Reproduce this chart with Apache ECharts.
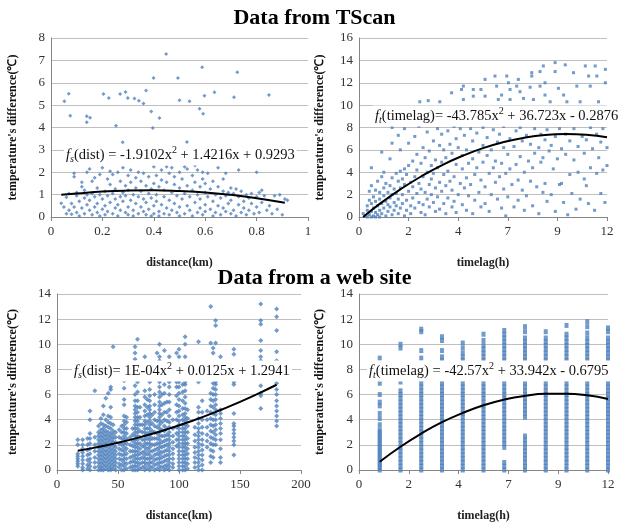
<!DOCTYPE html>
<html>
<head>
<meta charset="utf-8">
<script src="https://cdn.jsdelivr.net/npm/echarts@6/dist/echarts.min.js"></script>
<style>
  html, body { margin: 0; padding: 0; background: #fff; }
  #chart { width: 629px; height: 523px; }
</style>
</head>
<body>
<div id="chart"></div>
<script>
var myChart = echarts.init(document.getElementById('chart'));

// tick labels for the timelag axes (ticks every 0.1 day, shown in whole hours)
var hourTicks = ['0', '2', '4', '7', '9', '12'];

// TScan, distance (km) vs temperature difference
var tlPoints = [
  [0.052,5.17],[0.069,5.51],[0.075,4.53],[0.139,4.5],[0.139,4.23],[0.152,4.44],[0.204,5.5],[0.225,5.32],
  [0.253,4.08],[0.269,5.5],[0.29,5.59],[0.299,5.32],[0.279,3.34],[0.325,5.3],[0.342,5.19],[0.36,5.07],
  [0.37,5.65],[0.39,4.71],[0.396,3.98],[0.399,6.21],[0.422,4.43],[0.448,7.29],[0.494,6.21],[0.5,5.22],
  [0.539,5.17],[0.529,3.35],[0.578,4.84],[0.588,6.69],[0.592,4.62],[0.597,5.42],[0.636,5.57],[0.712,5.35],
  [0.725,6.47],[0.848,5.45],
  [0.04,0.62],[0.05,0.45],[0.06,0.15],[0.06,0.88],[0.07,0.3],[0.07,1.05],[0.08,0.6],[0.08,0.12],[0.09,1.95],
  [0.09,1.8],[0.09,0.45],[0.1,0.95],[0.1,0.2],[0.1,1.1],
  [0.11,0.7],[0.11,0.05],[0.12,1.55],[0.12,1.35],[0.12,0.4],[0.13,0.85],[0.13,0.15],[0.13,1.2],[0.14,2.0],
  [0.14,0.55],[0.14,1.0],[0.15,2.15],[0.15,0.3],[0.15,0.75],[0.16,1.6],[0.16,0.1],[0.16,1.05],[0.17,0.45],
  [0.17,1.75],[0.17,0.9],[0.18,0.2],[0.18,1.3],[0.18,0.6],[0.19,1.9],[0.19,0.05],[0.19,1.0],[0.2,2.2],
  [0.2,0.35],[0.2,0.8],
  [0.21,1.15],[0.21,0.5],[0.21,0.1],[0.22,1.7],[0.22,0.95],[0.22,0.25],[0.23,1.45],[0.23,0.65],[0.23,2.05],
  [0.24,0.15],[0.24,1.05],[0.24,1.9],[0.25,0.4],[0.25,0.8],[0.25,1.25],[0.26,2.0],[0.26,0.05],[0.26,0.55],
  [0.27,1.6],[0.27,0.9],[0.27,0.3],[0.28,1.1],[0.28,0.7],[0.28,2.2],[0.29,0.2],[0.29,1.4],[0.29,0.95],
  [0.3,1.85],[0.3,0.45],[0.3,0.1],[0.3,1.2],
  [0.31,0.75],[0.31,1.55],[0.31,2.1],[0.32,0.3],[0.32,1.0],[0.32,0.05],[0.33,1.75],[0.33,0.6],[0.33,1.3],
  [0.34,0.15],[0.34,0.9],[0.34,2.0],[0.35,1.15],[0.35,0.45],[0.35,1.6],[0.36,0.25],[0.36,0.8],[0.36,1.95],
  [0.37,1.4],[0.37,0.1],[0.37,0.65],[0.38,1.05],[0.38,1.8],[0.38,0.35],[0.39,0.05],[0.39,1.25],[0.39,0.85],
  [0.4,2.25],[0.4,0.5],[0.4,1.5],[0.4,0.15],
  [0.41,1.0],[0.41,0.7],[0.41,1.85],[0.42,0.25],[0.42,1.35],[0.42,0.05],[0.43,1.65],[0.43,0.55],[0.43,2.1],
  [0.44,0.9],[0.44,0.15],[0.44,1.2],[0.45,2.25],[0.45,0.4],[0.45,1.55],[0.46,0.75],[0.46,1.95],[0.46,0.1],
  [0.47,1.1],[0.47,0.3],[0.47,2.2],[0.48,0.6],[0.48,1.45],[0.48,1.8],[0.49,0.2],[0.49,0.95],[0.5,2.0],
  [0.5,0.45],[0.5,1.3],[0.5,0.05],
  [0.51,0.8],[0.51,1.7],[0.52,0.15],[0.52,1.05],[0.52,2.25],[0.53,0.5],[0.53,1.4],[0.53,2.15],[0.54,0.3],
  [0.54,0.9],[0.55,1.85],[0.55,0.05],[0.55,1.2],[0.56,0.65],[0.56,2.3],[0.56,1.55],[0.57,0.2],[0.57,1.0],
  [0.57,2.1],[0.58,0.4],[0.58,1.35],[0.58,0.8],[0.59,1.7],[0.59,0.1],[0.59,2.0],[0.6,1.1],[0.6,0.55],
  [0.6,1.5],[0.6,0.25],
  [0.61,0.9],[0.61,1.95],[0.62,0.35],[0.62,1.25],[0.63,0.05],[0.63,0.7],[0.63,1.6],[0.64,1.0],[0.64,0.2],
  [0.65,2.2],[0.65,0.5],[0.65,1.35],[0.66,0.85],[0.66,0.1],[0.67,1.15],[0.67,0.4],[0.67,1.7],[0.68,0.25],
  [0.68,0.95],[0.68,1.95],[0.69,0.6],[0.69,1.1],[0.7,0.15],[0.7,0.75],[0.7,1.3],
  [0.71,0.3],[0.71,1.05],[0.72,1.25],[0.72,0.05],[0.73,0.55],[0.73,0.9],[0.73,2.1],[0.74,0.2],[0.74,1.15],
  [0.75,0.7],[0.75,0.4],[0.76,1.0],[0.76,0.1],[0.77,0.85],[0.77,0.3],[0.78,0.6],[0.78,1.05],[0.79,0.15],
  [0.8,2.0],[0.8,0.9],[0.8,0.45],
  [0.81,1.1],[0.81,0.2],[0.82,1.2],[0.82,0.65],[0.83,0.95],[0.84,0.3],[0.85,0.5],[0.86,0.15],[0.87,0.95],
  [0.88,0.35],[0.89,1.0],[0.9,0.1],[0.91,0.8],[0.92,0.75]
];
var tlTrend = [[0.04,0.99],[0.1,1.05],[0.2,1.14],[0.3,1.18],[0.4,1.19],[0.5,1.16],[0.6,1.1],[0.7,0.99],[0.8,0.84],[0.91,0.64]];

// TScan, timelag (h) vs temperature difference
var trPoints = [
  [2.94,10.3],[3.35,10.4],[3.91,10.3],[4.48,11.1],[4.96,11.4],[5.05,10.5],[5.53,11.4],[5.53,10.8],[6.1,12.3],
  [6.1,10.8],[6.58,12.6],[6.66,11.7],[6.74,10.5],[7.15,12.6],[7.23,12.0],[7.31,11.4],[7.31,10.5],[7.71,12.3],
  [7.79,11.2],[7.96,10.6],[8.28,11.6],[8.36,12.6],[8.36,12.9],[8.44,10.5],[8.76,13.0],[8.92,13.5],[9.0,10.9],
  [9.25,10.3],[9.49,13.8],[9.49,13.0],[9.65,11.5],[9.9,10.9],[10.06,10.3],[9.98,13.6],[10.38,12.9],[10.54,11.7],
  [10.7,10.3],[10.95,13.5],[11.11,12.6],[11.19,11.7],[11.43,13.5],[11.51,12.6],[11.59,10.3],[11.92,13.2],
  [11.92,12.0],[9.0,12.0],[8.76,11.7],[7.63,11.7],[6.9,10.9],[5.9,11.4],[5.05,11.7],
  [0.2,0.3],[0.3,0.1],[0.4,0.6],[0.4,1.0],[0.5,0.2],[0.5,1.5],[0.5,2.3],[0.6,0.5],[0.6,1.2],[0.6,2.8],[0.6,4.4],
  [0.7,0.1],[0.7,0.8],[0.7,1.8],[0.8,0.4],[0.8,1.4],[0.8,2.4],[0.9,0.2],[0.9,1.0],[0.9,3.2],[1.0,0.6],[1.0,1.6],
  [1.0,2.2],[0.4,0.0],[0.6,0.0],[0.8,0.0],[1.0,0.0],
  [1.1,0.3],[1.1,1.2],[1.1,3.6],[1.1,5.8],[1.2,0.8],[1.2,1.9],[1.2,2.6],[1.2,4.0],[1.3,0.1],[1.3,1.4],[1.3,3.0],
  [1.4,0.5],[1.4,2.2],[1.4,1.1],[1.5,0.9],[1.5,2.8],[1.5,1.7],[1.5,5.2],[1.6,0.2],[1.6,2.0],[1.6,3.5],[1.6,8.0],
  [1.6,6.6],[1.7,1.3],[1.7,0.6],[1.7,2.5],[1.8,3.9],[1.8,1.0],[1.8,2.1],[1.9,0.3],[1.9,3.2],[1.9,1.6],[1.9,7.3],
  [2.0,2.6],[2.0,0.8],[2.0,4.1],[2.0,6.0],
  [2.1,1.2],[2.1,3.4],[2.1,2.0],[2.2,0.1],[2.2,4.3],[2.2,2.9],[2.2,7.9],[2.3,1.5],[2.3,3.8],[2.3,0.6],[2.4,2.3],
  [2.4,4.6],[2.4,6.6],[2.5,1.0],[2.5,3.1],[2.5,0.3],[2.6,2.7],[2.6,5.0],[2.6,1.7],[2.7,3.6],[2.7,0.8],[2.7,7.2],
  [2.8,2.1],[2.8,4.2],[2.8,5.6],[2.9,1.3],[2.9,3.0],[2.9,8.1],[3.0,0.4],[3.0,2.5],[3.0,4.8],
  [3.1,3.6],[3.1,1.1],[3.1,6.2],[3.2,2.2],[3.2,5.3],[3.2,0.2],[3.3,4.0],[3.3,1.6],[3.3,7.6],[3.4,2.9],[3.4,5.9],
  [3.4,0.9],[3.5,3.4],[3.5,4.6],[3.5,2.0],[3.6,6.8],[3.6,1.3],[3.6,3.9],[3.7,0.5],[3.7,2.6],[3.7,5.1],[3.8,4.4],
  [3.8,7.9],[3.8,1.8],[3.9,3.1],[3.9,6.4],[3.9,0.7],[4.0,2.3],[4.0,4.9],[4.0,7.4],
  [4.1,3.8],[4.1,1.2],[4.1,6.0],[4.2,0.3],[4.2,2.8],[4.2,5.3],[4.3,4.1],[4.3,7.7],[4.3,1.7],[4.4,3.2],[4.4,6.5],
  [4.5,0.9],[4.5,2.4],[4.5,5.7],[4.6,8.1],[4.6,3.6],[4.6,1.4],[4.7,4.7],[4.7,7.0],[4.7,0.4],[4.8,2.0],[4.8,6.2],
  [4.9,3.0],[4.9,7.9],[5.0,1.1],[5.0,4.3],[5.0,5.5],
  [5.1,2.6],[5.1,7.3],[5.2,0.6],[5.2,3.5],[5.2,6.0],[5.3,4.8],[5.3,1.9],[5.4,7.9],[5.4,2.9],[5.5,0.3],[5.5,5.2],
  [5.5,6.8],[5.6,3.8],[5.6,1.5],[5.7,4.4],[5.7,7.5],[5.8,2.2],[5.8,5.8],[5.9,0.9],[5.9,3.3],[6.0,6.4],[6.0,4.9],
  [6.0,8.0],
  [6.1,2.7],[6.1,1.2],[6.2,5.5],[6.2,7.1],[6.3,3.9],[6.3,0.5],[6.4,6.0],[6.4,2.0],[6.5,4.4],[6.5,7.8],[6.6,3.1],
  [6.6,5.0],[6.7,1.6],[6.7,6.7],[6.8,3.6],[6.8,7.4],[6.9,0.8],[6.9,4.8],[7.0,2.5],[7.0,6.2],[7.0,8.1],
  [7.1,0.1],[7.1,3.9],[7.2,5.6],[7.2,1.8],[7.3,7.0],[7.3,4.3],[7.4,2.9],[7.5,6.3],[7.5,0.9],[7.6,4.7],[7.6,7.7],
  [7.7,1.5],[7.7,3.3],[7.8,5.4],[7.8,8.0],[7.9,2.4],[7.9,6.8],[8.0,4.0],[8.0,0.6],
  [8.1,7.3],[8.1,1.9],[8.2,5.0],[8.3,3.2],[8.3,6.5],[8.4,4.4],[8.4,1.0],[8.5,7.9],[8.5,5.7],[8.6,2.7],[8.7,6.2],
  [8.7,0.3],[8.8,4.9],[8.8,7.4],[8.9,2.2],[8.9,5.3],[9.0,6.9],[9.0,3.0],
  [9.1,1.4],[9.1,7.8],[9.2,5.9],[9.3,2.0],[9.3,6.4],[9.4,4.3],[9.5,7.2],[9.5,0.5],[9.6,5.2],[9.7,2.9],[9.7,7.9],
  [9.8,6.1],[9.8,3.0],[9.9,1.3],[10.0,5.6],[10.0,7.4],
  [10.1,0.2],[10.2,6.8],[10.2,3.8],[10.3,2.1],[10.4,7.9],[10.4,5.1],[10.5,0.7],[10.6,6.3],[10.6,4.0],[10.7,1.6],
  [10.8,7.2],[10.9,3.4],[10.9,5.7],[11.0,2.8],[11.0,6.9],
  [11.1,1.2],[11.2,8.0],[11.2,4.4],[11.3,6.1],[11.4,0.6],[11.5,7.4],[11.5,3.9],[11.6,5.3],[11.7,2.1],[11.7,6.7],
  [11.8,4.2],[11.8,7.9],[11.9,1.3],[12.0,6.2],[12.0,4.6]
];
var trTrend = [[0.2,0.0],[1,1.17],[2,2.47],[3,3.62],[4,4.62],[5,5.46],[6,6.16],[7,6.7],[8,7.09],[9,7.33],[10,7.41],[11,7.35],[12,7.13]];

// web site, distance (km): one column of values per station distance
var blColumns = [
  [17,[0.3,0.5,0.7,0.9,1.1,1.3,2.0,2.4]],
  [21,[0,0.2,0.5,0.8,1.1,1.4,1.7,2.0,2.4]],
  [25,[0.1,0.4,0.8,1.2,1.6,2.0,2.5]],
  [27,[0,0.3,0.6,0.9,1.3,1.7,2.1,2.5,2.9,4.0,4.7]],
  [31,[0.2,0.6,1.0,1.5,2.0,2.6,6.3]],
  [34,[0,0.3,0.6,0.9,1.2,1.5,1.8,2.1,2.4,2.7,3.0,3.5]],
  [36,[0,0.2,0.5,0.8,1.1,1.4,1.7,2.0,2.3,2.6,2.9,3.2,3.7,4.1]],
  [38,[0,0.3,0.6,0.9,1.2,1.5,1.8,2.1,2.4,2.7,3.0,3.3,3.6,4.4,5.1]],
  [40,[0.1,0.4,0.7,1.0,1.3,1.6,1.9,2.2,2.5,2.8,3.1,3.5,4.0,5.7]],
  [42,[0,0.3,0.6,0.9,1.2,1.5,1.8,2.1,2.4,2.7,3.0,3.4,3.8,4.3,6.1]],
  [44,[0,0.2,0.5,0.8,1.1,1.4,1.7,2.0,2.3,2.6,2.9,3.3,3.7,4.2,5.0,6.4,6.6]],
  [46,[0.1,0.4,0.7,1.0,1.3,1.6,1.9,2.2,2.5,2.8,3.1,3.6,9.8]],
  [48,[0,0.3,0.6,0.9,1.2,1.5,1.8,2.2,2.6,3.0]],
  [51,[0.2,0.5,0.9,1.3,1.7,2.1,2.6,3.2]],
  [53,[0,0.4,0.8,1.2,1.6,2.0,2.5,3.0,3.5]],
  [55,[0,0.3,0.6,0.9,1.2,1.5,1.8,2.1,2.4,2.7,3.0,3.3,3.6,3.9,4.3,5.2,5.6,6.5,7.1]],
  [57,[0.1,0.5,0.9,1.3,1.7,2.1,2.5,2.9,3.3,3.8,4.2]],
  [60,[0.2,0.6,1.0,1.5,2.0,2.6]],
  [62,[0,0.3,0.7,1.1,1.5,1.9,2.3,2.8,3.3]],
  [64,[0,0.3,0.6,0.9,1.2,1.5,1.8,2.1,2.4,2.7,3.0,3.3,3.6,3.9,4.2,4.5,4.8,5.1,5.5,6.0,6.7,8.8,9.3,9.8]],
  [66,[0,0.3,0.6,0.9,1.2,1.5,1.8,2.1,2.4,2.7,3.0,3.3,3.6,3.9,4.2,4.6,5.0,5.5,6.2,7.0,10.4]],
  [68,[0.1,0.5,0.9,1.3,1.7,2.1,2.6,3.1,3.6,4.2,5.0]],
  [70,[0.2,0.6,1.0,1.4,1.9,2.4,3.0,3.6]],
  [72,[0,0.3,0.6,0.9,1.2,1.5,1.8,2.1,2.4,2.7,3.0,3.3,3.6,3.9,4.3,4.7,5.2,5.8,6.3,9.0]],
  [74,[0.1,0.5,0.9,1.3,1.7,2.1,2.5,2.9,3.3,3.8,4.4,5.0,5.6]],
  [76,[0,0.3,0.6,0.9,1.2,1.5,1.8,2.1,2.4,2.7,3.0,3.3,3.6,3.9,4.2,4.5,4.8,5.1,5.5,5.9,6.4,7.0]],
  [78,[0.2,0.6,1.0,1.5,2.0,2.5,3.1,3.7,4.4]],
  [80,[0,0.4,0.8,1.2,1.6,2.0,2.5,3.0,3.5,4.0,4.6,5.2,6.0]],
  [82,[0.1,0.5,0.9,1.3,1.7,2.1,2.5,2.9,3.4,3.9,9.3]],
  [84,[0,0.3,0.6,0.9,1.2,1.5,1.8,2.1,2.4,2.7,3.0,3.3,3.6,3.9,4.2,4.5,4.8,5.1,5.4,5.8,6.2,6.6,7.0,8.7,9.0,10.0]],
  [86,[0.2,0.6,1.0,1.4,1.8,2.2,2.7,3.2,3.8,4.4,5.2,6.0]],
  [88,[0,0.3,0.7,1.1,1.5,1.9,2.3,2.7,3.1,3.5,4.0,4.6,5.3,6.1,6.8,9.5]],
  [90,[0.1,0.4,0.8,1.2,1.6,2.0,2.4,2.8,3.3,3.9,4.6,5.4]],
  [92,[0,0.3,0.6,0.9,1.2,1.5,1.8,2.1,2.4,2.7,3.0,3.4,3.8,4.3,4.8,5.4,6.0,6.6,7.0,9.0]],
  [95,[0.2,0.5,0.9,1.3,1.7,2.2,2.7,3.3,4.0]],
  [98,[1.9,2.4,2.9,3.4,4.0,4.6,5.2,5.9,6.6,7.0,9.3]],
  [100,[0,0.3,0.6,0.9,1.2,1.5,1.8,2.1,2.4,2.7,3.0,3.3,3.6,3.9,4.3,4.7,5.1,5.6,6.1,6.6,7.0,9.0,9.6]],
  [103,[0,0.3,0.6,0.9,1.2,1.5,1.8,2.1,2.4,2.7,3.0,3.3,3.6,4.0,4.4,4.9,5.5,6.2,6.8]],
  [105,[0,0.3,0.6,0.9,1.2,1.5,1.8,2.1,2.4,2.7,3.0,3.3,3.6,3.9,4.2,4.5,4.9,5.3,5.8,6.3,6.8,7.0,9.0,10.0,10.6]],
  [107,[0.1,0.5,0.9,1.3,1.7,2.1,2.5,3.0,3.5,4.1,4.8]],
  [113,[0.2,0.6,1.0,1.4,1.8,2.3,2.8,3.4]],
  [116,[0,0.3,0.6,0.9,1.2,1.5,1.8,2.1,2.4,2.7,3.0,3.3,3.7,4.1,4.6,5.0,7.0,10.2]],
  [119,[0,0.4,0.8,1.2,1.6,2.0,2.4,2.9,3.4,4.0,4.6,5.5]],
  [123,[1.8,2.3,2.8,3.4,4.0,4.7]],
  [126,[0.6,1.1,1.6,2.1,2.6,3.1,3.6,4.1,4.6,5.1,5.6,6.1,10.1,13.0]],
  [128,[1.0,1.5,2.0,2.5,3.0,3.5,4.0,4.5,5.0,5.5,6.0,6.5,6.9,9.3,9.7]],
  [130,[2.0,2.4,2.8,3.2,3.6,4.0,4.4,4.8,5.2,5.6,6.0,6.4,6.8,7.0,10.1,11.5,11.9]],
  [134,[0.6,1.0,1.7,2.4,2.9,3.3,3.7,4.1,4.5,4.8,9.0]],
  [145,[1.2,2.0,2.3,2.6,2.9,3.2,3.5,3.7,4.5,6.8,7.0,7.3,9.2,9.6]],
  [167,[4.9,5.9,6.1,6.7,8.7,9.0,9.5,10.3,11.6,11.9,13.2]],
  [180,[3.5,3.9,4.3,4.7,5.1,5.5,6.0,6.4,6.9,7.7,8.7,9.4,11.1,12.2,12.8]]
];
var blTrend = [[17,1.54],[30,1.76],[50,2.17],[70,2.66],[90,3.23],[110,3.88],[130,4.61],[150,5.42],[165,6.08],[180,6.78]];

// web site, timelag (h): one column per whole hour
var brColumns = [
  [1,[0,0.2,0.4,0.6,0.8,1.0,1.2,1.4,1.6,1.8,2.0,2.2,2.4,2.6,2.8,3.0,3.2,3.6,4.1,4.5,5.1,5.4,6.0,6.9,8.9]],
  [2,[0,0.3,0.6,0.9,1.2,1.5,1.8,2.1,2.4,2.7,3.0,3.3,3.6,3.9,4.2,4.5,4.8,5.1,5.4,5.7,6.0,6.3,7.0,9.7,10.0]],
  [3,[0,0.3,0.6,0.9,1.2,1.5,1.8,2.1,2.4,2.7,3.0,3.3,3.6,3.9,4.2,4.5,4.8,5.1,5.4,5.7,6.0,6.3,6.6,6.9,7.2,7.5,7.8,8.9,9.5,11.0,11.2]],
  [4,[0,0.3,0.6,0.9,1.2,1.5,1.8,2.1,2.4,2.7,3.0,3.3,3.6,3.9,4.2,4.5,4.8,5.1,5.4,5.7,6.0,6.3,6.6,6.9,7.2,7.5,7.8,8.1,8.4,8.7,9.0,9.5,10.3,10.6]],
  [5,[0,0.3,0.6,0.9,1.2,1.5,1.8,2.1,2.4,2.7,3.0,3.3,3.6,3.9,4.2,4.5,4.8,5.1,5.4,5.7,6.0,6.3,6.6,6.9,7.2,7.5,7.8,8.1,8.4,8.7,9.0,9.3,9.7,10.1]],
  [6,[0,0.3,0.6,0.9,1.2,1.5,1.8,2.1,2.4,2.7,3.0,3.3,3.6,3.9,4.2,4.5,4.8,5.1,5.4,5.7,6.0,6.3,6.6,6.9,7.2,7.5,7.8,8.1,8.4,8.7,9.0,9.3,9.6,9.9,10.3,10.8]],
  [7,[0,0.3,0.6,1.8,2.1,2.4,2.7,3.0,3.3,3.6,3.9,4.2,4.5,4.8,5.1,5.4,5.7,6.0,6.3,6.6,6.9,7.2,7.5,7.8,8.1,8.4,8.7,9.0,9.3,9.6,9.9,10.2,10.5,10.8,11.1]],
  [8,[0,0.3,0.6,0.9,1.2,1.5,1.8,2.1,2.4,2.7,4.2,4.5,4.8,5.1,5.4,5.7,6.0,6.3,6.6,6.9,7.2,7.5,7.8,8.1,8.4,8.7,9.0,9.3,9.6,9.9,10.2,10.5,11.0,11.4]],
  [9,[0,0.3,0.6,0.9,1.2,1.5,1.8,2.1,2.4,2.7,3.0,3.3,3.6,3.9,4.2,4.5,4.8,5.1,5.4,5.7,6.0,6.3,6.6,6.9,7.2,7.5,7.8,8.1,8.4,8.7,9.0,9.3,9.6,9.9,10.2,10.5,11.0]],
  [10,[0,0.3,0.6,0.9,1.2,1.5,1.8,2.1,2.4,2.7,3.0,3.3,3.6,3.9,4.2,4.5,4.8,5.1,5.4,5.7,6.0,6.3,6.6,6.9,7.2,7.5,7.8,8.1,8.4,8.7,9.0,9.3,9.6,9.9,10.2,10.5,10.8,11.5]],
  [11,[0,0.3,0.6,0.9,1.2,1.5,1.8,2.1,2.4,2.7,3.0,3.3,3.6,3.9,4.2,4.5,4.8,5.1,5.4,5.7,6.0,6.3,6.6,6.9,7.2,7.5,7.8,8.1,8.4,8.7,9.0,9.3,9.6,9.9,10.2,10.5,10.9,11.4,11.8]],
  [12,[0,0.3,0.6,0.9,1.2,1.5,1.8,2.1,2.4,2.7,3.0,3.3,3.6,3.9,4.2,4.5,4.8,5.1,5.4,5.7,6.0,6.3,6.6,6.9,7.2,7.5,7.8,8.1,8.4,8.7,9.0,9.3,9.6,9.9,10.2,10.5,11.0,11.3]]
];
var brTrend = [[1,0.66],[2,1.85],[3,2.9],[4,3.8],[5,4.54],[6,5.15],[7,5.6],[8,5.9],[9,6.06],[10,6.07],[11,5.94],[12,5.65]];

function flatCols(cols) {
  var out = [];
  cols.forEach(function (c) {
    c[1].forEach(function (y) { out.push([c[0], y]); });
  });
  return out;
}

var serif = 'Liberation Serif, Times New Roman, serif';
var blue = '#4F81BD';
var yName = "temperature's difference(℃)";

function xAxisOf(idx, max, interval, name, hours) {
  return {
    gridIndex: idx, type: 'value', min: 0, max: max, interval: interval,
    name: name, nameLocation: 'middle', nameGap: 40,
    nameTextStyle: { fontFamily: serif, fontWeight: 'bold', fontSize: 12, color: '#222' },
    axisLine: { lineStyle: { color: '#868686' } },
    axisTick: { show: true, length: 4, lineStyle: { color: '#868686' } },
    splitLine: { show: false },
    axisLabel: {
      fontFamily: serif, fontSize: 13, color: '#333', margin: 8,
      formatter: hours ? function (v) { return hourTicks[Math.round(v / 2.4)]; } : null
    }
  };
}
function yAxisOf(idx, max, interval, gap) {
  return {
    gridIndex: idx, type: 'value', min: 0, max: max, interval: interval,
    name: yName, nameLocation: 'middle', nameRotate: 90, nameGap: gap,
    nameTextStyle: { fontFamily: serif, fontWeight: 'bold', fontSize: 12, color: '#111' },
    axisLine: { show: true, lineStyle: { color: '#868686' } },
    axisTick: { show: false },
    splitLine: { lineStyle: { color: '#BFBFBF' } },
    axisLabel: { fontFamily: serif, fontSize: 13, color: '#333', margin: 6 }
  };
}
function scatterOf(idx, data, symbol, size) {
  return {
    type: 'scatter', xAxisIndex: idx, yAxisIndex: idx, data: data,
    symbol: symbol, symbolSize: size, itemStyle: { color: blue }, silent: true, z: 2
  };
}
function trendOf(idx, data) {
  return {
    type: 'line', xAxisIndex: idx, yAxisIndex: idx, data: data, smooth: true,
    showSymbol: false, lineStyle: { color: '#000', width: 2 }, silent: true, z: 3
  };
}
function eqText(x, y, sub, before, after) {
  var fs = 14.5;
  return {
    type: 'text', x: x, y: y, z: 10,
    style: {
      text: '{f|f}{s|' + sub + '}{n|' + before + '}{p|2}{n|' + after + '}',
      backgroundColor: '#fff',
      padding: [1, 2],
      verticalAlign: 'middle',
      rich: {
        f: { fontFamily: serif, fontStyle: 'italic', fontSize: fs, lineHeight: 19, fill: '#111' },
        s: { fontFamily: serif, fontStyle: 'italic', fontSize: 10, lineHeight: 19, verticalAlign: 'bottom', fill: '#111' },
        n: { fontFamily: serif, fontSize: fs, lineHeight: 19, fill: '#111' },
        p: { fontFamily: serif, fontSize: 10, lineHeight: 19, verticalAlign: 'top', fill: '#111' }
      }
    }
  };
}

var option = {
  backgroundColor: '#fff',
  animation: false,
  title: [
    { text: 'Data from TScan', left: 'center', top: 2,
      textStyle: { fontFamily: serif, fontWeight: 'bold', fontSize: 22, color: '#000' } },
    { text: 'Data from a web site', left: 'center', top: 262,
      textStyle: { fontFamily: serif, fontWeight: 'bold', fontSize: 22, color: '#000' } }
  ],
  grid: [
    { left: 51, top: 38, width: 257, height: 179 },
    { left: 359, top: 38, width: 248, height: 179 },
    { left: 57, top: 294, width: 244, height: 179 },
    { left: 359, top: 294, width: 249, height: 179 }
  ],
  xAxis: [
    xAxisOf(0, 1, 0.2, 'distance(km)', false),
    xAxisOf(1, 12, 2.4, 'timelag(h)', true),
    xAxisOf(2, 200, 50, 'distance(km)', false),
    xAxisOf(3, 12, 2.4, 'timelag(h)', true)
  ],
  yAxis: [
    yAxisOf(0, 8, 1, 32),
    yAxisOf(1, 16, 2, 33),
    yAxisOf(2, 14, 2, 38),
    yAxisOf(3, 14, 2, 33)
  ],
  series: [
    scatterOf(0, tlPoints, 'diamond', 4),
    trendOf(0, tlTrend),
    scatterOf(1, trPoints, 'rect', 3),
    trendOf(1, trTrend),
    scatterOf(2, flatCols(blColumns), 'diamond', 5),
    trendOf(2, blTrend),
    scatterOf(3, flatCols(brColumns), 'rect', [4, 5]),
    trendOf(3, brTrend)
  ],
  graphic: [
    eqText(64, 155, 's', '(dist) = -1.9102x', ' + 1.4216x + 0.9293'),
    eqText(373, 116, 't', '(timelag)= -43.785x', ' + 36.723x - 0.2876'),
    eqText(72, 371, 's', '(dist)= 1E-04x', ' + 0.0125x + 1.2941'),
    eqText(367, 371, 't', '(timelag) = -42.57x', ' + 33.942x - 0.6795')
  ]
};

myChart.setOption(option);
</script>
</body>
</html>
